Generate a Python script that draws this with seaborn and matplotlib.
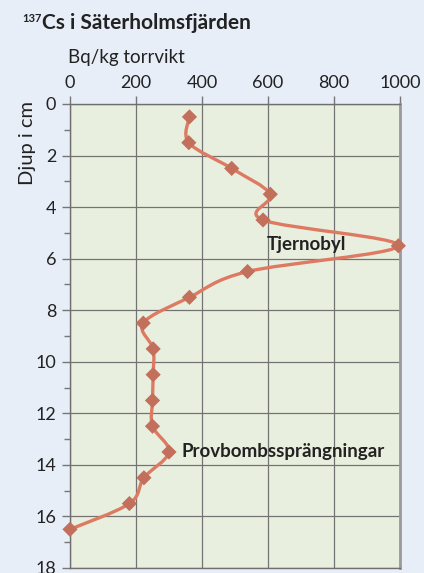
import numpy as np
import pandas as pd
import matplotlib
matplotlib.use("Agg")
import matplotlib.pyplot as plt
import seaborn as sns
from matplotlib.path import Path
from matplotlib.patches import PathPatch

# ---- data ----
depth_cm = [0.5, 1.5, 2.5, 3.5, 4.5, 5.5, 6.5, 7.5, 8.5, 9.5, 10.5, 11.5, 12.5, 13.5, 14.5, 15.5, 16.5]
activity = [362, 360, 490, 607, 585, 995, 538, 362, 222, 252, 252, 250, 250, 300, 224, 180, 0]
x_ticks = [0, 200, 400, 600, 800, 1000]
y_ticks = [0, 2, 4, 6, 8, 10, 12, 14, 16, 18]
title_sup = "137"
title_main = "Cs i Säterholmsfjärden"
x_label = "Bq/kg torrvikt"
y_label = "Djup i cm"
annotations = [("Tjernobyl", 597, 5.45), ("Provbombssprängningar", 338, 13.5)]

df = pd.DataFrame({"depth": depth_cm, "activity": activity})

sns.set_theme(style="white")
plt.rcParams["font.family"] = ["Lato", "DejaVu Sans"]

W, H = 424, 573
fig = plt.figure(figsize=(W / 100, H / 100), dpi=100)
fig.patch.set_facecolor("#e8eef7")
ax = fig.add_axes([70 / W, 1 - 568 / H, 330 / W, (568 - 104) / H])
ax.set_facecolor("#e9efdf")

line_col = "#de7a62"
marker_col = "#c2705c"

# smooth curve (Catmull-Rom -> cubic Bezier) through the data points
pts = np.column_stack([df["activity"].to_numpy(float), df["depth"].to_numpy(float)])
verts = [tuple(pts[0])]
codes = [Path.MOVETO]
n = len(pts)
for i in range(n - 1):
    p0 = pts[i - 1] if i > 0 else pts[i]
    p1 = pts[i]
    p2 = pts[i + 1]
    p3 = pts[i + 2] if i + 2 < n else pts[i + 1]
    c1 = p1 + (p2 - p0) / 6.0
    c2 = p2 - (p3 - p1) / 6.0
    verts += [tuple(c1), tuple(c2), tuple(p2)]
    codes += [Path.CURVE4] * 3
ax.add_patch(PathPatch(Path(verts, codes), facecolor="none", edgecolor=line_col,
                       lw=2.4, zorder=3, transform=ax.transData, clip_on=False))

sns.scatterplot(data=df, x="activity", y="depth", marker="D", s=60, color=marker_col,
                edgecolor="none", ax=ax, zorder=4, clip_on=False)

ax.set_xlim(0, 1000)
ax.set_ylim(18, 0)
ax.xaxis.tick_top()
ax.set_xticks(x_ticks)
ax.set_yticks(y_ticks)
ax.set_yticks([1, 3, 5, 7, 9, 11, 13, 15, 17], minor=True)
ax.set_xticklabels([str(v) for v in x_ticks], fontsize=13, color="#222222")
ax.set_yticklabels([str(v) for v in y_ticks], fontsize=13, color="#222222")
ax.tick_params(axis="x", which="major", direction="out", length=6, width=1, color="#777777", pad=3, top=True, bottom=False)
ax.tick_params(axis="y", which="major", direction="out", length=6, width=1, color="#777777", pad=4, left=True)
ax.tick_params(axis="y", which="minor", direction="out", length=4, width=1, color="#777777", left=True)
ax.grid(True, which="major", color="#737373", lw=0.9)
ax.set_axisbelow(True)
ax.set_xlabel("")
ax.set_ylabel("")
for s in ["top", "bottom", "left"]:
    ax.spines[s].set_color("#6f6f6f")
    ax.spines[s].set_linewidth(1.0)
ax.spines["right"].set_color("#9a9a9a")
ax.spines["right"].set_linewidth(2.0)

for txt, xv, yv in annotations:
    ax.text(xv, yv, txt, fontsize=13.5, fontweight="bold", color="#222222", va="center", ha="left", zorder=5)

# title with superscript
t1 = fig.text(22 / W, 1 - 24 / H, title_sup, fontsize=8, fontweight="bold", color="#222222", va="bottom")
fig.canvas.draw()
ax.annotate(title_main, xy=(1, 0), xycoords=t1, xytext=(0.5, -6.5), textcoords="offset points",
            fontsize=15, fontweight="bold", color="#222222", va="bottom", ha="left", annotation_clip=False)

fig.text(68 / W, 1 - 63 / H, x_label, fontsize=13.5, color="#222222", va="baseline", ha="left")
fig.text(28 / W, 1 - 143 / H, y_label, fontsize=14.5, color="#222222", rotation=90, va="center", ha="center")

fig.savefig("out.png", dpi=100, facecolor=fig.get_facecolor())
